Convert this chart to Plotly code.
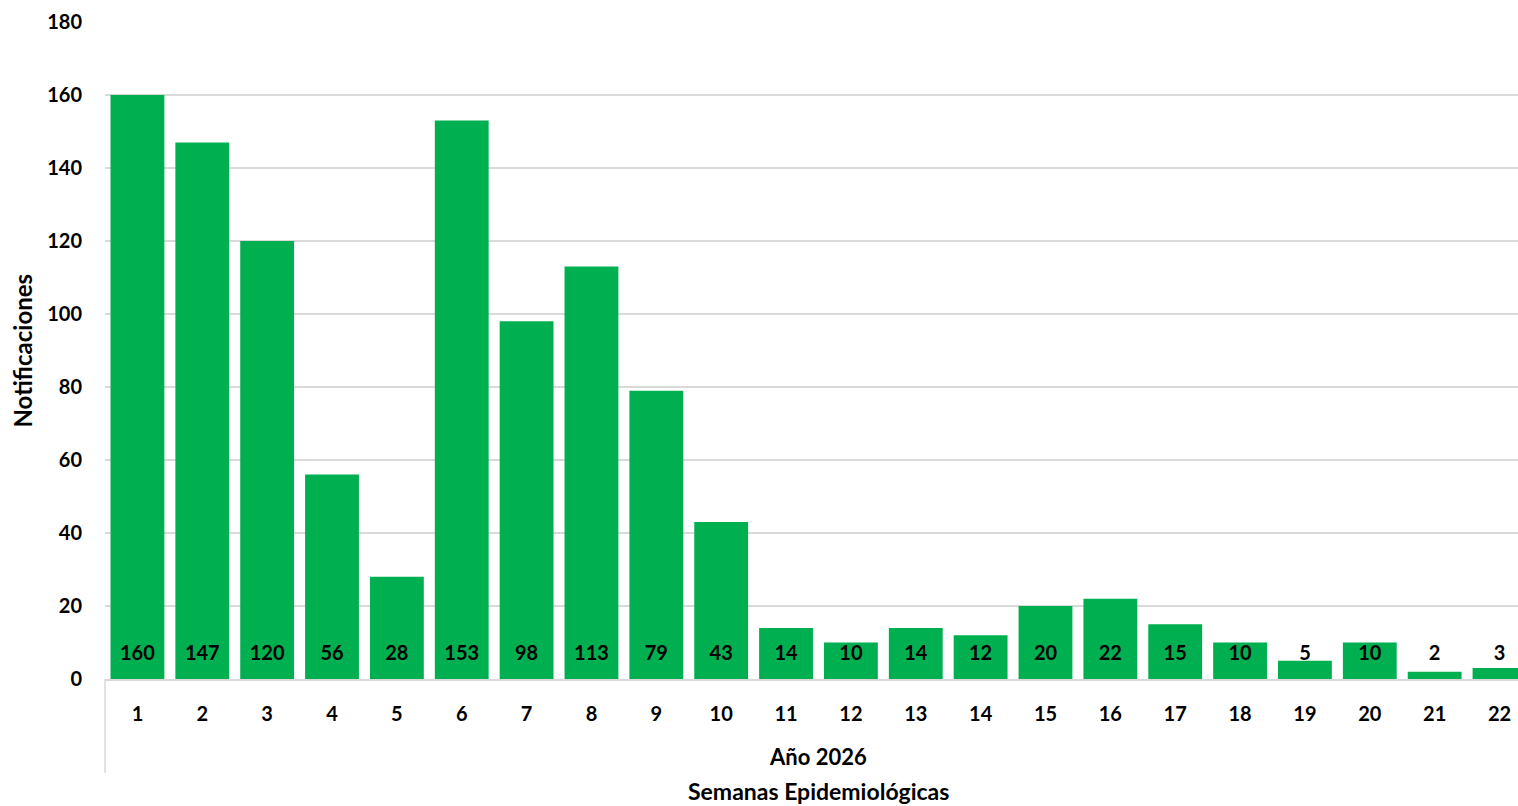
import plotly.graph_objects as go

weeks = list(range(1, 23))
values = [160, 147, 120, 56, 28, 153, 98, 113, 79, 43, 14, 10, 14, 12, 20, 22, 15, 10, 5, 10, 2, 3]
y_ticks = list(range(0, 181, 20))
x_title_1 = "Año 2026"
x_title_2 = "Semanas Epidemiológicas"
y_title = "Notificaciones"

FONT = "Lato"
GREEN = "#00B050"
GRID = "#d9d9d9"

W, H = 1518, 806
L, T, B = 105, 22, 127
PLOT_H = H - T - B
PLOT_W = W - L

fig = go.Figure()
fig.add_trace(go.Bar(x=weeks, y=values, marker=dict(color=GREEN, line=dict(width=0)),
                     width=0.83, hoverinfo="x+y", showlegend=False))
fig.add_trace(go.Scatter(x=weeks, y=[6.6] * len(weeks), mode="text",
                         text=[str(v) for v in values],
                         textfont=dict(family=FONT, size=20, color="black", weight=700),
                         hoverinfo="skip", showlegend=False))

fig.update_layout(
    width=W, height=H,
    margin=dict(l=L, r=0, t=T, b=B),
    paper_bgcolor="white", plot_bgcolor="white",
    font=dict(family=FONT, size=20, color="black", weight=700),
    bargap=0.17,
)
fig.update_xaxes(range=[0.5, 22.285], tickmode="array", tickvals=weeks,
                 ticktext=[str(w) for w in weeks], showgrid=False, zeroline=False,
                 showline=True, linecolor=GRID, linewidth=1.5, ticks="",
                 ticklabelstandoff=16,
                 tickfont=dict(family=FONT, size=20, color="black", weight=700))
fig.update_yaxes(range=[0, 180], tickmode="array", tickvals=y_ticks,
                 showgrid=True, gridcolor=GRID, gridwidth=1.5, zeroline=False,
                 showline=False, ticks="", ticklabelstandoff=22,
                 tickfont=dict(family=FONT, size=20, color="black", weight=700))

# divider line of category axis (left end)
fig.add_shape(type="line", xref="paper", yref="paper", x0=0, x1=0, y0=0, y1=-94 / PLOT_H,
              line=dict(color=GRID, width=1.5))

fig.add_annotation(text=x_title_1, xref="x", yref="paper", x=11.5, y=-(757 - 679) / PLOT_H,
                   showarrow=False, yanchor="middle",
                   font=dict(family=FONT, size=22, color="black", weight=700))
fig.add_annotation(text=x_title_2, xref="x", yref="paper", x=11.5, y=-(791 - 679) / PLOT_H,
                   showarrow=False, yanchor="middle",
                   font=dict(family=FONT, size=23, color="black", weight=700))
fig.add_annotation(text=y_title, xref="paper", yref="paper", x=-(105 - 22) / PLOT_W, y=0.5,
                   showarrow=False, textangle=-90, xanchor="center", yanchor="middle",
                   font=dict(family=FONT, size=24, color="black", weight=700))

fig.write_html("out.html", config={"displayModeBar": False},
               post_script="document.body.style.margin='0';document.body.style.overflow='hidden';")
